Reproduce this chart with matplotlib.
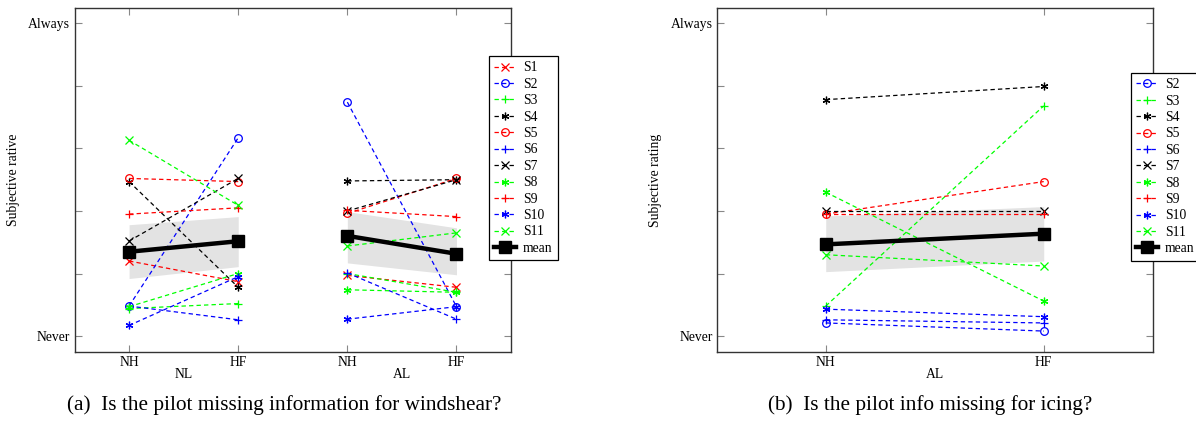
import numpy as np
import matplotlib
matplotlib.use("Agg")
import matplotlib.pyplot as plt
from matplotlib.transforms import blended_transform_factory

plt.rcParams['font.family'] = ['Liberation Serif', 'DejaVu Serif']
plt.rcParams['font.size'] = 9.8

# rating scale: 0 = Never ... 5 = Always
subjects_a = ['S1', 'S2', 'S3', 'S4', 'S5', 'S6', 'S7', 'S8', 'S9', 'S10', 'S11']
nl_nh = [1.20, 0.48, 0.44, 2.47, 2.52, 0.48, 1.52, 0.47, 1.95, 0.17, 3.13]
nl_hf = [0.87, 3.17, 0.52, 0.78, 2.47, 0.26, 2.52, 1.00, 2.05, 0.95, 2.09]
al_nh = [0.97, 3.74, 1.00, 2.48, 1.96, 1.01, 2.00, 0.74, 2.01, 0.27, 1.44]
al_hf = [0.78, 0.47, 0.70, 2.50, 2.52, 0.27, 2.50, 0.70, 1.91, 0.47, 1.65]
band_a_lo = [0.92, 1.11, 1.17, 0.98]
band_a_hi = [1.78, 1.91, 1.99, 1.73]

subjects_b = ['S2', 'S3', 'S4', 'S5', 'S6', 'S7', 'S8', 'S9', 'S10', 'S11']
ic_nh = [0.21, 0.48, 3.78, 1.95, 0.26, 2.00, 2.30, 1.95, 0.43, 1.30]
ic_hf = [0.08, 3.68, 3.99, 2.47, 0.21, 2.00, 0.56, 1.95, 0.31, 1.12]
band_b_lo = [1.03, 1.20]
band_b_hi = [1.92, 2.07]

conditions = ['NH', 'HF']

ASTERISK = (6, 2, 0)
STYLE = {
    'S1': ('red', 'x'), 'S2': ('blue', 'o'), 'S3': ('#00ff00', '+'),
    'S4': ('black', ASTERISK), 'S5': ('red', 'o'), 'S6': ('blue', '+'),
    'S7': ('black', 'x'), 'S8': ('#00ff00', ASTERISK), 'S9': ('red', '+'),
    'S10': ('blue', ASTERISK), 'S11': ('#00ff00', 'x'),
}
DASH = (0, (3.5, 2.5))


def draw_subject(ax, name, xs, ys, label=True):
    color, marker = STYLE[name]
    face = 'none' if marker == 'o' else color
    ax.plot(xs, ys, linestyle=DASH, lw=0.9, color=color, marker=marker,
            ms=5.5, mew=0.9, mfc=face, label=name if label else None)


def style_axes(ax, xticks, xlim, ylabel):
    ax.set_xlim(*xlim)
    ax.set_ylim(-0.25, 5.24)
    ax.set_xticks(xticks)
    ax.set_xticklabels(conditions * (len(xticks) // 2))
    ax.set_yticks(range(6))
    ax.set_yticklabels(['Never', '', '', '', '', 'Always'])
    ax.tick_params(direction='in', length=5, width=0.8, color='#888888',
                   top=True, right=True, pad=3)
    for sp in ax.spines.values():
        sp.set_color('#333333')
        sp.set_linewidth(1.0)
    ax.set_ylabel(ylabel)
    ax.yaxis.set_label_coords(-0.126, 0.5)


def add_legend(ax, fig, anchor):
    leg = ax.legend(loc='upper left', bbox_to_anchor=anchor,
                    bbox_transform=fig.transFigure, borderaxespad=0,
                    fancybox=False, framealpha=1, edgecolor='black',
                    handlelength=1.6, handletextpad=0.5, labelspacing=0.25,
                    borderpad=0.4, fontsize=9.8)
    leg.get_frame().set_linewidth(0.9)


fig = plt.figure(figsize=(11.96, 4.24), dpi=100)
ax1 = fig.add_axes([0.0623, 0.1705, 0.365, 0.8099])
ax2 = fig.add_axes([0.5993, 0.1705, 0.3645, 0.8099])

# (a) windshear: two groups, NL and AL
xa = np.array([1, 2, 3, 4])
ax1.fill_between(xa[:2], band_a_lo[:2], band_a_hi[:2], color='#e3e3e3', lw=0)
ax1.fill_between(xa[2:], band_a_lo[2:], band_a_hi[2:], color='#e3e3e3', lw=0)
for i, s in enumerate(subjects_a):
    draw_subject(ax1, s, xa[:2], [nl_nh[i], nl_hf[i]])
    draw_subject(ax1, s, xa[2:], [al_nh[i], al_hf[i]], label=False)
mean_a = [np.mean(nl_nh), np.mean(nl_hf), np.mean(al_nh), np.mean(al_hf)]
ax1.plot(xa[:2], mean_a[:2], color='black', lw=3.2, marker='s', ms=8, label='mean')
ax1.plot(xa[2:], mean_a[2:], color='black', lw=3.2, marker='s', ms=8)
style_axes(ax1, xa, (0.5, 4.5), 'Subjective rative')
tr1 = blended_transform_factory(ax1.transData, ax1.transAxes)
ax1.text(1.5, -0.066, 'NL', transform=tr1, ha='center', va='center')
ax1.text(3.5, -0.066, 'AL', transform=tr1, ha='center', va='center')
add_legend(ax1, fig, (489 / 1196, 1 - 56 / 424))

# (b) icing: AL only
xb = np.array([1, 2])
ax2.fill_between(xb, band_b_lo, band_b_hi, color='#e3e3e3', lw=0)
for i, s in enumerate(subjects_b):
    draw_subject(ax2, s, xb, [ic_nh[i], ic_hf[i]])
ax2.plot(xb, [np.mean(ic_nh), np.mean(ic_hf)], color='black', lw=3.2,
         marker='s', ms=8, label='mean')
style_axes(ax2, xb, (0.5, 2.5), 'Subjective rating')
tr2 = blended_transform_factory(ax2.transData, ax2.transAxes)
ax2.text(1.5, -0.066, 'AL', transform=tr2, ha='center', va='center')
add_legend(ax2, fig, (1131 / 1196, 1 - 72.7 / 424))

fig.text(0.238, 0.045, '(a)  Is the pilot missing information for windshear?',
         ha='center', va='center', fontsize=15.3)
fig.text(0.778, 0.045, '(b)  Is the pilot info missing for icing?',
         ha='center', va='center', fontsize=15.3)

fig.savefig('out.png', dpi=100)
